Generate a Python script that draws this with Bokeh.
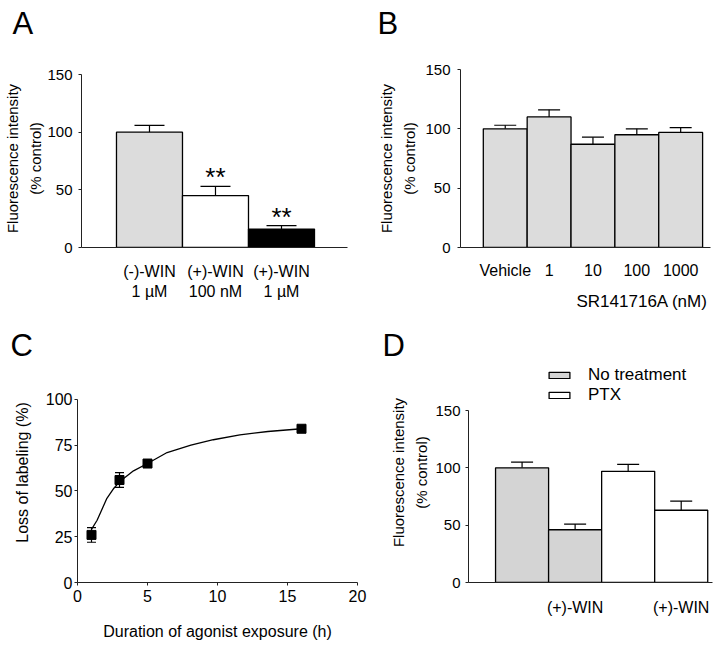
from bokeh.plotting import figure
from bokeh.layouts import column, row
from bokeh.models import (Range1d, FixedTicker, Whisker, TeeHead, ColumnDataSource,
                          Legend, LegendItem, Title)
from bokeh.core.properties import value
from bokeh.embed import file_html
from bokeh.resources import INLINE

FONT = "Liberation Sans"
NBSP = "\u00a0"

# ---------------- data ----------------
# Panel A
a_pos = [1, 2, 3]
a_labels = ["(-)-WIN\n1 µM", "(+)-WIN\n100 nM", "(+)-WIN\n1 µM"]
a_mean = [100, 45, 16]
a_sem = [6, 8, 3]
a_sig = ["", "**", "**"]
a_fill = ["#dcdcdc", "#ffffff", "#000000"]

# Panel B
b_pos = [1, 2, 3, 4, 5]
b_labels = ["Vehicle", "1", "10", "100", "1000"]
b_mean = [100, 110, 87, 95, 97]
b_sem = [3, 6, 6, 5, 4]

# Panel C
c_time = [1, 3, 5, 16]
c_loss = [26, 56, 65, 84]
c_sem = [4, 4, 2, 1]
c_fit_time = [1.0, 1.4, 2.1, 2.6, 3.0, 4.0, 5.0, 6.4, 8.1, 9.7, 11.6, 13.6, 16.0]
c_fit_loss = [29, 34, 46, 51.5, 55, 61, 65, 71, 75, 78, 80.7, 82.5, 84]

# Panel D
d_pos = [1, 2, 3, 4]
d_ticklabels = ["", "(+)-WIN", "", "(+)-WIN"]
d_mean = [100, 46, 97, 63]
d_sem = [5, 5, 6, 8]
d_group = ["No treatment", "No treatment", "PTX", "PTX"]
d_colors = {"No treatment": "#d4d4d4", "PTX": "#ffffff"}

GRAY = "#dcdcdc"


def make_fig(xr, yr, fw, fh, left, right, top, bottom):
    p = figure(x_range=xr, y_range=yr, frame_width=fw, frame_height=fh,
               min_border_left=left, min_border_right=right,
               min_border_top=top, min_border_bottom=bottom,
               output_backend="svg", toolbar_location=None, tools="")
    p.outline_line_color = None
    p.xgrid.visible = False
    p.ygrid.visible = False
    p.background_fill_color = "white"
    p.border_fill_color = "white"
    for ax in p.axis:
        ax.axis_line_color = "#222222"
        ax.axis_line_width = 1
        ax.major_tick_line_color = "#222222"
        ax.minor_tick_line_color = None
        ax.major_tick_in = 0
        ax.major_tick_out = 3
        ax.major_label_text_font = FONT
        ax.major_label_text_font_size = "15px"
        ax.major_label_text_color = "black"
        ax.axis_label_text_font = FONT
        ax.axis_label_text_font_size = "15px"
        ax.axis_label_text_font_style = "normal"
        ax.axis_label_text_color = "black"
    return p


def letter(p, text, offset, gap):
    title = Title(text=text, text_font=FONT, text_font_size="31px", text_color="black",
                  text_font_style="normal", align="left", offset=offset, standoff=0)
    if gap > 0:
        # blank band next to the frame (first "above" item sits closest to the frame),
        # the panel letter is stacked above it
        spacer = Title(text=NBSP, text_font=FONT, text_font_size="1px", standoff=gap)
        p.add_layout(spacer, "above")
        p.add_layout(title, "above")
    else:
        p.title = title


def bar_xaxis(p, ticks, labels, standoff):
    ax = p.xaxis[0]
    ax.ticker = FixedTicker(ticks=ticks)
    ax.major_label_overrides = {t: l for t, l in zip(ticks, labels)}
    ax.major_tick_out = 0
    ax.major_label_standoff = standoff
    ax.major_label_text_font_size = "16px"


# ---------------- Panel A ----------------
pA = make_fig(Range1d(-0.03, 4.0), Range1d(0, 154.4), 266, 178, 79, 15, 69, 77)
pA.yaxis[0].bounds = (0, 150)
srcA = ColumnDataSource(dict(x=a_pos, top=a_mean, upper=[m + s for m, s in zip(a_mean, a_sem)],
                             fill=a_fill, sig=a_sig))
pA.add_layout(Whisker(base="x", lower="top", upper="upper", source=srcA, line_color="black",
                      line_width=1.2, upper_head=TeeHead(size=30, line_color="black", line_width=1.2),
                      lower_head=None))
pA.vbar(x="x", top="top", width=1, source=srcA, fill_color="fill", line_color="black", line_width=1.3)
pA.text(x="x", y="upper", text="sig", source=srcA, text_font=value(FONT), text_font_size=value("26px"),
        text_align="center", text_baseline="alphabetic", y_offset=-9, text_color="black")
pA.yaxis[0].ticker = FixedTicker(ticks=[0, 50, 100, 150])
pA.yaxis[0].major_label_standoff = 6
pA.yaxis[0].axis_label = "Fluorescence intensity\n(% control)"
pA.yaxis[0].axis_label_standoff = 0
pA.yaxis[0].axis_label_text_line_height = 1.4
bar_xaxis(pA, a_pos, a_labels, 15)
letter(pA, "A", -69, 26)

# ---------------- Panel B ----------------
pB = make_fig(Range1d(-0.02, 5.68), Range1d(0, 150), 250, 178, 98, 12, 69, 77)
srcB = ColumnDataSource(dict(x=b_pos, top=b_mean, upper=[m + s for m, s in zip(b_mean, b_sem)]))
pB.add_layout(Whisker(base="x", lower="top", upper="upper", source=srcB, line_color="black",
                      line_width=1.2, upper_head=TeeHead(size=22, line_color="black", line_width=1.2),
                      lower_head=None))
pB.vbar(x="x", top="top", width=1, source=srcB, fill_color=GRAY, line_color="black", line_width=1.3)
pB.yaxis[0].ticker = FixedTicker(ticks=[0, 50, 100, 150])
pB.yaxis[0].major_label_standoff = 7
pB.yaxis[0].axis_label = "Fluorescence intensity\n(% control)"
pB.yaxis[0].axis_label_standoff = 4
pB.yaxis[0].axis_label_text_line_height = 1.4
bar_xaxis(pB, b_pos, b_labels, 14)
pB.xaxis[0].axis_label = NBSP * 24 + "SR141716A (nM)"
pB.xaxis[0].axis_label_text_font_size = "17px"
pB.xaxis[0].axis_label_standoff = 10
letter(pB, "B", -83, 26)

# ---------------- Panel C ----------------
pC = make_fig(Range1d(0, 20), Range1d(0, 120.2), 280, 220, 77, 15, 38, 64)
pC.yaxis[0].bounds = (0, 100)
srcC = ColumnDataSource(dict(x=c_time, y=c_loss, lower=[m - s for m, s in zip(c_loss, c_sem)],
                             upper=[m + s for m, s in zip(c_loss, c_sem)]))
pC.line(x=c_fit_time, y=c_fit_loss, line_color="black", line_width=1.3)
pC.add_layout(Whisker(base="x", lower="lower", upper="upper", source=srcC, line_color="black",
                      line_width=1.2, upper_head=TeeHead(size=9, line_color="black", line_width=1.2),
                      lower_head=TeeHead(size=9, line_color="black", line_width=1.2)))
pC.scatter(x="x", y="y", source=srcC, marker="square", size=9, fill_color="black", line_color="black")
for ax in pC.axis:
    ax.major_label_text_font_size = "16px"
    ax.axis_label_text_font_size = "16px"
pC.xaxis[0].ticker = FixedTicker(ticks=[0, 5, 10, 15, 20])
pC.yaxis[0].ticker = FixedTicker(ticks=[0, 25, 50, 75, 100])
pC.xaxis[0].major_label_standoff = 4
pC.yaxis[0].major_label_standoff = 2
pC.xaxis[0].axis_label = "Duration of agonist exposure (h)"
pC.xaxis[0].axis_label_standoff = 18
pC.yaxis[0].axis_label = "Loss of labeling (%)"
pC.yaxis[0].axis_label_standoff = 12
letter(pC, "C", -67, 0)

# ---------------- Panel D ----------------
pD = make_fig(Range1d(-0.01, 4.59), Range1d(0, 191.9), 244, 220, 96, 8, 38, 64)
pD.yaxis[0].bounds = (0, 150)
legend_items = []
for g in ["No treatment", "PTX"]:
    idx = [i for i, gg in enumerate(d_group) if gg == g]
    src = ColumnDataSource(dict(x=[d_pos[i] for i in idx], top=[d_mean[i] for i in idx],
                                upper=[d_mean[i] + d_sem[i] for i in idx]))
    pD.add_layout(Whisker(base="x", lower="top", upper="upper", source=src, line_color="black",
                          line_width=1.2, upper_head=TeeHead(size=22, line_color="black", line_width=1.2),
                          lower_head=None))
    r = pD.vbar(x="x", top="top", width=1, source=src, fill_color=d_colors[g], line_color="black",
                line_width=1.3)
    legend_items.append(LegendItem(label=g, renderers=[r]))
legend = Legend(items=legend_items, location=(78, 177), orientation="vertical",
                glyph_width=26, glyph_height=8, label_height=18, label_standoff=16, spacing=0,
                padding=0, margin=0, border_line_color=None, background_fill_alpha=0,
                label_text_font=FONT, label_text_font_size="17px", label_text_color="black",
                label_text_line_height=1.0)
pD.add_layout(legend)
pD.yaxis[0].ticker = FixedTicker(ticks=[0, 50, 100, 150])
pD.yaxis[0].major_label_standoff = 5
pD.yaxis[0].axis_label = "Fluorescence intensity\n(% control)"
pD.yaxis[0].axis_label_standoff = 2
pD.yaxis[0].axis_label_text_line_height = 1.4
bar_xaxis(pD, d_pos, d_ticklabels, 16)
letter(pD, "D", -86, 0)

layout = column(row(pA, pB), row(pC, pD))
open("out.html", "w").write(file_html(layout, INLINE, title="Figure"))
